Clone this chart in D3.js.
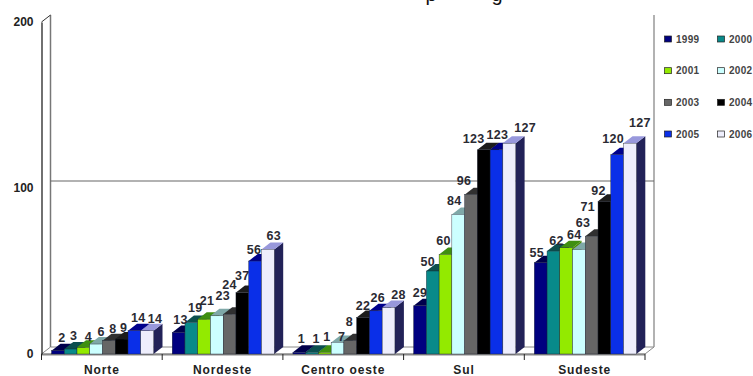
<!DOCTYPE html>
<html>
<head>
<meta charset="utf-8">
<script src="https://d3js.org/d3.v7.min.js"></script>
<style>
html,body{margin:0;padding:0;background:#fff}
text{font-family:"Liberation Sans",Arial,sans-serif}
</style>
</head>
<body>
<svg id="chart" width="753" height="376"></svg>
<script>
const regions = ["Norte", "Nordeste", "Centro oeste", "Sul", "Sudeste"];
const years = ["1999", "2000", "2001", "2002", "2003", "2004", "2005", "2006"];

const norte = [2, 3, 4, 6, 8, 9, 14, 14];
const nordeste = [13, 19, 21, 23, 24, 37, 56, 63];
const centroOeste = [1, 1, 1, 7, 8, 22, 26, 28];
const sul = [29, 50, 60, 84, 96, 123, 123, 127];
const sudeste = [55, 62, 64, 63, 71, 92, 120, 127];
const seriesByRegion = [norte, nordeste, centroOeste, sul, sudeste];

const yTicks = [0, 100, 200];

const frontColors = ["#000080", "#088a8a", "#93ea00", "#ccffff", "#666666", "#000000", "#0a2fe8", "#eeeefc"];
const topColors = ["#00004c", "#0c4f4f", "#3f8f10", "#7fa8a8", "#303030", "#1c1c1c", "#00008c", "#9898dc"];
const sideColors = ["#000050", "#064f4f", "#4a8a00", "#7f9f9f", "#333333", "#000000", "#000080", "#222258"];

// Hand-placed label offsets from each bar's front top centre, [dx, dy] per year.
const labelNudges = [
  [[4, -13], [3, -14], [5, -11], [5, -13], [4, -12], [2, -12], [4, -13], [8, -12]],
  [[2, -13], [4, -15], [3, -19], [6, -20], [0, -30], [0, -17], [-1, -12], [6, -14]],
  [[2, -14], [4, -14], [2, -16], [4, -6], [-1, -19], [0, -12], [2, -13], [10, -13]],
  [[0, -13], [-5, -10], [-2, -14], [-4, -14], [-7, -14], [-10, -11], [1, -15], [16, -16]],
  [[-4, -10], [3, -11], [8, -13], [4, -27], [-4, -30], [-6, -11], [-4, -16], [10, -21]]
];

// Oblique projection used for the pseudo-3D depth.
const depthX = 9, depthY = -7;

const svg = d3.select("#chart");

// Descenders of the heading line, cut off by the top edge
svg.selectAll("text.heading").data([["p", 431], ["g", 497]]).join("text")
  .attr("class", "heading")
  .attr("x", d => d[1]).attr("y", 1)
  .attr("text-anchor", "middle")
  .attr("font-size", 20).attr("fill", "#111")
  .text(d => d[0]);

const x = d3.scaleBand().domain(regions).range([41.5, 645]);
const y = d3.scaleLinear().domain([0, 200]).range([354, 22]);
const inner = d3.scaleBand().domain(years).range([10, 112]);

// Back wall, side wall and floor
const x0 = x.range()[0], x1 = x.range()[1], yBase = y(0), yTop = y(200);
const wall = svg.append("g");
wall.append("path")
  .attr("d", `M${x0},${yBase}L${x0 + depthX},${yBase + depthY}L${x1 + depthX},${yBase + depthY}L${x1},${yBase}Z`)
  .attr("fill", "#fff").attr("stroke", "#888").attr("stroke-width", 1);
wall.append("line")
  .attr("x1", x0 + depthX).attr("x2", x0 + depthX)
  .attr("y1", yTop + depthY).attr("y2", yBase + depthY)
  .attr("stroke", "#777").attr("stroke-width", 1.5);
wall.append("line")
  .attr("x1", x1 + depthX).attr("x2", x1 + depthX)
  .attr("y1", yTop + depthY).attr("y2", yBase + depthY)
  .attr("stroke", "#999").attr("stroke-width", 1.5);
wall.append("line")
  .attr("x1", x0).attr("x2", x0 + depthX)
  .attr("y1", yTop).attr("y2", yTop + depthY)
  .attr("stroke", "#333").attr("stroke-width", 1);
wall.selectAll("line.grid").data(yTicks.slice(1, 2)).join("line")
  .attr("class", "grid")
  .attr("x1", x0 + depthX).attr("x2", x1 + depthX)
  .attr("y1", d => y(d) + depthY).attr("y2", d => y(d) + depthY)
  .attr("stroke", "#666").attr("stroke-width", 1.2);

// Front edge of the floor
svg.append("line")
  .attr("x1", x0).attr("x2", x1).attr("y1", yBase + 0.5).attr("y2", yBase + 0.5)
  .attr("stroke", "#888").attr("stroke-width", 2);

// Axes
const yAxis = svg.append("g").attr("transform", `translate(${x0},0)`)
  .call(d3.axisLeft(y).tickValues(yTicks).tickSize(0).tickPadding(8));
yAxis.select(".domain").attr("stroke", "#111").attr("stroke-width", 1.2);
yAxis.selectAll("text")
  .attr("font-size", 12).attr("font-weight", "bold").attr("fill", "#222")
  .style("font-family", '"Liberation Sans",Arial,sans-serif');

const xAxis = svg.append("g").attr("transform", `translate(0,${yBase})`)
  .call(d3.axisBottom(x).tickSize(0).tickPadding(11));
xAxis.select(".domain").remove();
xAxis.selectAll("text")
  .attr("font-size", 12).attr("font-weight", "bold").attr("fill", "#222")
  .style("letter-spacing", "0.9px")
  .style("font-family", '"Liberation Sans",Arial,sans-serif');

// Tick marks sit on the boundaries between regions
svg.selectAll("line.tick-mark").data(regions.concat("end")).join("line")
  .attr("class", "tick-mark")
  .attr("x1", (d, i) => x0 + i * x.step()).attr("x2", (d, i) => x0 + i * x.step())
  .attr("y1", yBase).attr("y2", yBase + 6)
  .attr("stroke", "#222").attr("stroke-width", 1);

// Bars: each one is a front face, a top and a right-hand side
const regionGroups = svg.selectAll("g.region")
  .data(regions.map((name, r) => ({ name, r, values: seriesByRegion[r] })))
  .join("g").attr("class", "region")
  .attr("transform", d => `translate(${x(d.name)},0)`);

const w = inner.bandwidth();
const bars = regionGroups.selectAll("g.bar")
  .data(d => d.values.map((v, i) => ({ v, i, year: years[i] })))
  .join("g").attr("class", "bar");

bars.append("path")
  .attr("fill", d => sideColors[d.i])
  .attr("d", d => {
    const l = inner(d.year) + w, t = y(d.v);
    return `M${l},${yBase}L${l + depthX},${yBase + depthY}L${l + depthX},${t + depthY}L${l},${t}Z`;
  });
bars.append("path")
  .attr("fill", d => topColors[d.i])
  .attr("d", d => {
    const l = inner(d.year), t = y(d.v);
    return `M${l},${t}L${l + depthX},${t + depthY}L${l + w + depthX},${t + depthY}L${l + w},${t}Z`;
  });
bars.append("rect")
  .attr("x", d => inner(d.year)).attr("y", d => y(d.v))
  .attr("width", w).attr("height", d => yBase - y(d.v))
  .attr("fill", d => frontColors[d.i])
  .attr("stroke", "#1a2030").attr("stroke-width", 0.4);

// Value labels go above everything else
regionGroups.selectAll("text.value")
  .data(d => d.values.map((v, i) => ({ v, i, year: years[i], nudge: labelNudges[d.r][i] })))
  .join("text").attr("class", "value")
  .attr("x", d => inner(d.year) + w / 2 + d.nudge[0])
  .attr("y", d => y(d.v) + d.nudge[1] + 4.5)
  .attr("text-anchor", "middle")
  .attr("font-size", 12.5).attr("font-weight", "bold").attr("fill", "#2a2a33")
  .style("letter-spacing", "0.3px")
  .text(d => d.v);

// Legend in two columns
const legendCols = d3.scaleOrdinal().domain([0, 1]).range([664, 717]);
const legendRows = d3.scalePoint().domain([0, 1, 2, 3]).range([39, 134]);
const legend = svg.selectAll("g.legend").data(years).join("g")
  .attr("class", "legend")
  .attr("transform", (d, i) => `translate(${legendCols(i % 2)},${legendRows(Math.floor(i / 2))})`);
legend.append("rect")
  .attr("x", 0.5).attr("y", -3).attr("width", 7).attr("height", 6)
  .attr("fill", (d, i) => frontColors[i])
  .attr("stroke", "#222").attr("stroke-width", 0.7);
legend.append("text")
  .attr("x", 12).attr("y", 3.5)
  .attr("font-size", 10).attr("fill", "#444").attr("font-weight", "bold")
  .style("letter-spacing", "0.3px")
  .text(d => d);
</script>
</body>
</html>
